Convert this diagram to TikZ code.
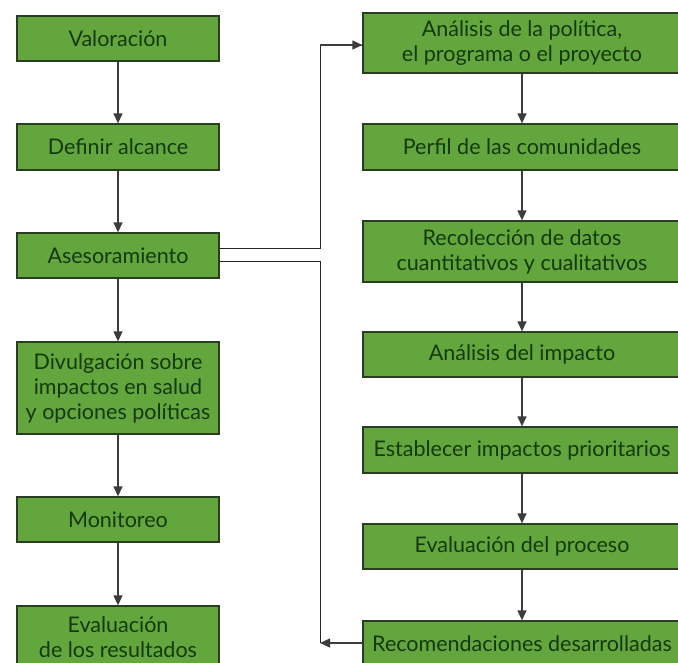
\documentclass[tikz,border=0pt]{standalone}
\usepackage{fontspec}
\setmainfont{Lato}
\usetikzlibrary{arrows.meta}
\definecolor{boxfill}{RGB}{99,166,62}
\definecolor{boxline}{RGB}{40,62,30}
\definecolor{boxtext}{RGB}{20,58,12}
\definecolor{linkgray}{RGB}{60,60,60}
\begin{document}
\begin{tikzpicture}[x=1pt,y=-1pt,
  stagebox/.style={draw=boxline, line width=1.3pt, fill=boxfill, text=boxtext,
    align=center, inner sep=0pt,
    font=\fontsize{21.5}{25}\selectfont},
  leftbox/.style={stagebox, minimum width=202pt},
  rightbox/.style={stagebox, minimum width=318pt},
  flow/.style={draw=linkgray, line width=1.3pt, -{Triangle[length=10pt,width=9pt]}},
  link/.style={draw=black!85, line width=0.9pt}]
\useasboundingbox (0,0) rectangle (678,662);
\clip (0,0) rectangle (678,662);

% left column
\node[leftbox, minimum height=45pt] (val) at (118,38.5) {Valoración};
\node[leftbox, minimum height=46pt] (def) at (118,147) {Definir alcance};
\node[leftbox, minimum height=45pt] (ase) at (118,255.5) {Asesoramiento};
\node[leftbox, minimum height=92pt] (div) at (118,388) {Divulgación sobre\\impactos en salud\\y opciones políticas};
\node[leftbox, minimum height=45pt] (mon) at (118,519.5) {Monitoreo};
\node[leftbox, minimum height=62pt] (res) at (118,637) {Evaluación\\de los resultados};

% right column
\node[rightbox, minimum height=60pt] (pol) at (522,43) {Análisis de la política,\\el programa o el proyecto};
\node[rightbox, minimum height=46pt] (per) at (522,147) {Perfil de las comunidades};
\node[rightbox, minimum height=61pt] (rec) at (522,251.5) {Recolección de datos\\cuantitativos y cualitativos};
\node[rightbox, minimum height=45pt] (imp) at (522,354.5) {Análisis del impacto};
\node[rightbox, minimum height=46pt] (pri) at (522,450) {Establecer impactos prioritarios};
\node[rightbox, minimum height=45pt] (pro) at (522,546.5) {Evaluación del proceso};
\node[rightbox, minimum height=46pt] (rcm) at (522,644) {Recomendaciones desarrolladas};

% vertical flow arrows
\foreach \a/\b in {val/def, def/ase, ase/div, div/mon, mon/res,
                   pol/per, per/rec, rec/imp, imp/pri, pri/pro, pro/rcm}
  \draw[flow] (\a.south) -- (\b.north);

% branch from Asesoramiento to the right column
\coordinate (up) at (320,248);
\coordinate (down) at (320,261);
\coordinate (back) at (320,643);
\draw[link] (ase.east |- up) -- (up) -- (320,45) -- (pol.west |- 0,45)
  coordinate (polin);
\draw[flow] (320,45) -- (polin);
\draw[link] (ase.east |- down) -- (down) -- (back);
\draw[flow] (rcm.west |- back) -- (back);
\end{tikzpicture}
\end{document}
